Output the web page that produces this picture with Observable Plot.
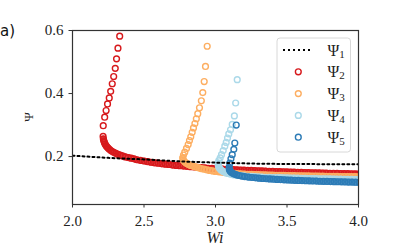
<!DOCTYPE html>
<html><head><meta charset="utf-8">
<script src="https://cdn.jsdelivr.net/npm/d3@7"></script>
<script src="https://cdn.jsdelivr.net/npm/@observablehq/plot@0.6"></script>
<style>
html,body{margin:0;padding:0;background:#fff;overflow:hidden}
svg{display:block}
#chart svg text{font-family:'Liberation Serif','DejaVu Serif',serif}
</style>
</head><body><div id="chart"></div>
<script>
// Psi_1 (dotted line)
const psi1 = [[2.0,0.203],[2.25,0.196],[2.5,0.191],[2.75,0.185],[3.0,0.181],[3.25,0.178],[3.5,0.1765],[3.75,0.176],[4.0,0.1755]];

// Psi_2 (red): upper (sparse) and lower (dense) branches
const psi2Upper = [[2.330,0.582],[2.318,0.544],[2.308,0.510],[2.299,0.480],[2.288,0.454],[2.278,0.431],[2.267,0.407],[2.257,0.386],[2.245,0.367],[2.235,0.346],[2.225,0.325],[2.215,0.298],[2.214,0.264]];
const psi2Lower = [
[2.216,0.256],[2.219,0.250],[2.223,0.245],[2.228,0.240],[2.234,0.235],[2.241,0.231],[2.249,0.227],[2.258,0.223],[2.268,0.219],[2.279,0.216],[2.291,0.213],[2.304,0.210],[2.318,0.207],[2.333,0.205],[2.35,0.202],[2.37,0.199],[2.39,0.197],[2.41,0.195],[2.43,0.193],[2.45,0.190],[2.475,0.188],[2.50,0.186],[2.525,0.184],[2.55,0.182],[2.575,0.180],[2.60,0.179],[2.625,0.177],[2.65,0.176],[2.675,0.175],[2.70,0.173],[2.725,0.172],[2.75,0.171],[2.775,0.170],[2.80,0.169],[2.825,0.168],[2.85,0.167],[2.875,0.166],[2.90,0.165],[2.925,0.164],[2.95,0.163],[2.975,0.1624],[3.00,0.1617],[3.025,0.161],[3.05,0.1604],[3.075,0.1598],[3.10,0.1592],[3.125,0.1586],[3.15,0.158],[3.175,0.1575],[3.20,0.157],[3.225,0.1565],[3.25,0.156],[3.275,0.1555],[3.30,0.155],[3.325,0.1545],[3.35,0.154],[3.375,0.1535],[3.40,0.153],[3.425,0.1526],[3.45,0.1522],[3.475,0.1518],[3.50,0.1514],[3.525,0.151],[3.55,0.1506],[3.575,0.1502],[3.60,0.1498],[3.625,0.1494],[3.65,0.149],[3.675,0.1487],[3.70,0.1484],[3.725,0.1481],[3.75,0.1478],[3.775,0.1475],[3.80,0.1472],[3.825,0.1469],[3.85,0.1466],[3.875,0.1463],[3.90,0.146],[3.925,0.1457],[3.95,0.1454],[3.975,0.1451],[4.00,0.1448],[4.025,0.1445]];

// Psi_3 (orange)
const psi3Upper = [[2.942,0.550],[2.930,0.486],[2.921,0.438],[2.911,0.403],[2.901,0.377],[2.888,0.355],[2.876,0.336],[2.866,0.320],[2.856,0.305],[2.846,0.291],[2.837,0.277],[2.827,0.263],[2.818,0.251],[2.809,0.238],[2.797,0.226],[2.785,0.214],[2.776,0.205]];
const psi3Lower = [
[2.771,0.196],[2.774,0.190],[2.781,0.185],[2.79,0.181],[2.80,0.178],[2.812,0.175],[2.826,0.172],[2.84,0.170],[2.855,0.168],[2.87,0.166],[2.885,0.164],[2.90,0.162],[2.92,0.160],[2.94,0.158],[2.96,0.156],[2.98,0.1545],[3.0,0.153],[3.025,0.1515],[3.05,0.150],[3.075,0.1488],[3.10,0.1477],[3.125,0.1467],[3.15,0.1459],[3.175,0.1452],[3.20,0.1445],[3.225,0.144],[3.25,0.1435],[3.275,0.143],[3.30,0.1426],[3.325,0.1422],[3.35,0.1418],[3.375,0.1414],[3.40,0.1411],[3.425,0.1408],[3.45,0.1405],[3.475,0.1402],[3.50,0.140],[3.525,0.1397],[3.55,0.1395],[3.575,0.1392],[3.60,0.139],[3.625,0.1388],[3.65,0.1386],[3.675,0.1384],[3.70,0.1382],[3.725,0.138],[3.75,0.1378],[3.775,0.1376],[3.80,0.1374],[3.825,0.1372],[3.85,0.137],[3.875,0.1368],[3.90,0.1367],[3.925,0.1365],[3.95,0.1364],[3.975,0.1362],[4.00,0.1361],[4.025,0.136]];

// Psi_4 (light blue)
const psi4Upper = [[3.152,0.444],[3.141,0.370],[3.132,0.329],[3.117,0.302],[3.105,0.285],[3.093,0.272],[3.084,0.259],[3.075,0.245],[3.065,0.233],[3.054,0.219],[3.042,0.206],[3.033,0.196],[3.023,0.187]];
const psi4Lower = [
[3.019,0.179],[3.019,0.173],[3.022,0.168],[3.028,0.163],[3.036,0.159],[3.046,0.155],[3.058,0.152],[3.072,0.149],[3.088,0.1465],[3.105,0.1443],[3.125,0.1423],[3.15,0.1405],[3.175,0.1395],[3.20,0.1385],[3.225,0.1377],[3.25,0.137],[3.275,0.1362],[3.30,0.1355],[3.325,0.135],[3.35,0.1345],[3.375,0.1341],[3.40,0.1337],[3.425,0.1333],[3.45,0.133],[3.475,0.1326],[3.50,0.1323],[3.525,0.132],[3.55,0.1317],[3.575,0.1314],[3.60,0.1311],[3.625,0.1308],[3.65,0.1305],[3.675,0.1302],[3.70,0.130],[3.725,0.1297],[3.75,0.1295],[3.775,0.1292],[3.80,0.129],[3.825,0.1287],[3.85,0.1285],[3.875,0.1282],[3.90,0.128],[3.925,0.1277],[3.95,0.1275],[3.975,0.1272],[4.00,0.127],[4.025,0.1268]];

// Psi_5 (dark blue)
const psi5Upper = [[3.145,0.300],[3.135,0.243],[3.128,0.223],[3.117,0.206],[3.108,0.193],[3.100,0.179]];
const psi5Lower = [
[3.096,0.166],[3.097,0.159],[3.102,0.154],[3.11,0.150],[3.12,0.147],[3.133,0.1445],[3.148,0.142],[3.165,0.140],[3.185,0.138],[3.205,0.1365],[3.23,0.135],[3.255,0.1337],[3.28,0.1325],[3.305,0.1315],[3.33,0.1305],[3.355,0.1297],[3.38,0.129],[3.405,0.1283],[3.43,0.1276],[3.455,0.127],[3.48,0.1264],[3.505,0.1258],[3.53,0.1253],[3.555,0.1248],[3.58,0.1243],[3.605,0.1238],[3.63,0.1234],[3.655,0.123],[3.68,0.1226],[3.705,0.1222],[3.73,0.1218],[3.755,0.1214],[3.78,0.1211],[3.805,0.1208],[3.83,0.1205],[3.855,0.1202],[3.88,0.1199],[3.905,0.1196],[3.93,0.1193],[3.955,0.119],[3.98,0.1188],[4.005,0.1186],[4.03,0.1184]];

const seriesNames = ["Ψ2","Ψ3","Ψ4","Ψ5"];
const seriesColors = ["#d7191c","#fdae61","#abd9e9","#2c7bb6"];
const subscripts = ["1","2","3","4","5"];
const xTicks = [2.0, 2.5, 3.0, 3.5, 4.0];
const yTicks = [0.2, 0.4, 0.6];
const xLabel = "Wi";
const yLabel = "Ψ";
const panelLabel = "a)";

const uppers = [psi2Upper, psi3Upper, psi4Upper, psi5Upper];
const lowers = [psi2Lower, psi3Lower, psi4Lower, psi5Lower];

// per series: dense band (lower branch) drawn as a thick stroke under its dots, then dots
const marks = [];
seriesNames.forEach((name, i) => {
  const low = lowers[i].map(([wi, p]) => ({wi, psi: p, s: name}));
  const all = uppers[i].concat(lowers[i]).map(([wi, p]) => ({wi, psi: p, s: name}));
  marks.push(Plot.line(low, {x: "wi", y: "psi", stroke: "s", strokeWidth: 6.5, strokeOpacity: 0.8, curve: "monotone-y", clip: true}));
  marks.push(Plot.dot(all, {x: "wi", y: "psi", stroke: "s", r: 2.9, strokeWidth: 1.4, fill: "none", clip: true}));
});
const lineRows = psi1.map(([wi, p]) => ({wi, psi: p}));

const serif = "'Liberation Serif', 'DejaVu Serif', serif";

const plot = Plot.plot({
  width: 399, height: 249,
  marginLeft: 72, marginRight: 41, marginTop: 30, marginBottom: 45,
  style: {fontFamily: serif, fontSize: "15px", background: "#fff", color: "#222", overflow: "visible"},
  x: {domain: [2, 4]},
  y: {domain: [0.048, 0.6]},
  color: {domain: seriesNames, range: seriesColors},
  marks: [
    Plot.axisX({ticks: xTicks, tickFormat: d3.format(".1f"), tickSize: 3.5, tickPadding: 7, label: null, stroke: "#333", fontSize: 15}),
    Plot.axisY({ticks: yTicks, tickFormat: d3.format(".1f"), tickSize: 3.5, tickPadding: 5.5, label: null, stroke: "#333", fontSize: 15}),
    ...marks,
    Plot.line(lineRows, {x: "wi", y: "psi", stroke: "#000", strokeWidth: 2, strokeDasharray: "2,3", curve: "monotone-x", clip: true}),
    Plot.frame({stroke: "#333", strokeWidth: 1.2})
  ]
});
document.getElementById("chart").appendChild(plot);

const svg = d3.select(plot);
const xs = plot.scale("x"), ys = plot.scale("y");

// axis labels
svg.append("text").attr("x", xs.apply(3.0)).attr("y", 243).attr("text-anchor", "middle")
  .attr("font-style", "italic").attr("font-size", 16).attr("fill", "#222").text(xLabel);
svg.append("text").attr("transform", `translate(33,${(ys.apply(0.6) + ys.apply(0.048)) / 2}) rotate(-90)`)
  .attr("text-anchor", "middle").attr("font-size", 13).attr("fill", "#222").text(yLabel);
svg.append("text").attr("x", 0).attr("y", 36).attr("text-anchor", "start")
  .style("font-family", "'DejaVu Sans', sans-serif").attr("font-size", 15).attr("fill", "#111").text(panelLabel);

// legend
const lg = svg.append("g");
lg.append("rect").attr("x", 277).attr("y", 38).attr("width", 73.5).attr("height", 114).attr("rx", 3)
  .attr("fill", "#fff").attr("fill-opacity", 0.8).attr("stroke", "#d8d8d8").attr("stroke-width", 1);
const rowY = i => 50 + i * 21.8;
lg.append("line").attr("x1", 283).attr("x2", 313).attr("y1", rowY(0)).attr("y2", rowY(0))
  .attr("stroke", "#000").attr("stroke-width", 2).attr("stroke-dasharray", "2,3");
seriesColors.forEach((c, i) => {
  lg.append("circle").attr("cx", 298.3).attr("cy", rowY(i + 1)).attr("r", 2.9)
    .attr("fill", "none").attr("stroke", c).attr("stroke-width", 1.4);
});
subscripts.forEach((s, i) => {
  const t = lg.append("text").attr("x", 327.5).attr("y", rowY(i) + 5.5).attr("text-anchor", "start")
    .attr("font-size", 16).attr("fill", "#222");
  t.append("tspan").text("Ψ");
  t.append("tspan").attr("font-size", 11).attr("dy", 2).text(s);
});
</script>
</body></html>
